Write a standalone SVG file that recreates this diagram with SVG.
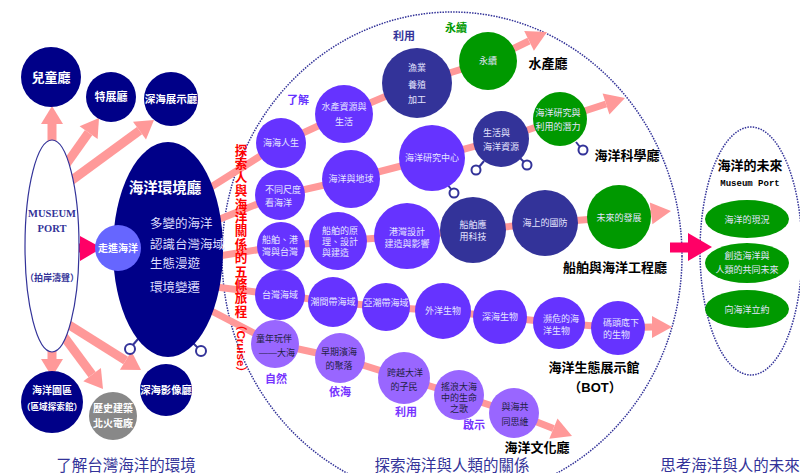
<svg xmlns="http://www.w3.org/2000/svg" width="800" height="473" viewBox="0 0 800 473">
<style>
text{font-family:"Liberation Sans","Noto Sans CJK TC",sans-serif;}
.nv{fill:#000088;}
.wt{fill:#ffffff;font-weight:bold;text-anchor:middle;}
.ct{fill:#e4e4ff;font-size:9px;text-anchor:middle;}
.cs{fill:#e4e4ff;font-size:9px;text-anchor:start;}
.dk{fill:#1e1e44;font-size:9px;text-anchor:middle;}
.c1{fill:#6633ff;}
.c2{fill:#333399;}
.c3{fill:#9966ff;}
.cg{fill:#009900;}
.pk{fill:#ff9999;}
.pl{fill:none;stroke:#ff9999;stroke-width:7;}
.ps{fill:none;stroke:#ff9999;stroke-width:9;}
.lb{fill:#000000;font-weight:bold;font-size:13px;text-anchor:middle;}
.tag{font-weight:bold;font-size:11px;text-anchor:middle;}
.dot{fill:none;stroke:#333399;stroke-width:1.5;stroke-dasharray:1.5 1.2;}
.lp{fill:#ffffff;stroke:#333399;stroke-width:2;}
.ll{stroke:#333399;stroke-width:2;}
.bt{fill:#333399;font-size:15.5px;text-anchor:middle;}
.rd{fill:#ff0000;font-weight:bold;font-size:12.6px;text-anchor:middle;}
.sf{font-family:"Liberation Serif",serif;fill:#333399;font-size:10.5px;font-weight:bold;text-anchor:middle;}
</style>

<!-- dotted regions -->
<ellipse class="dot" cx="452" cy="256" rx="230" ry="244"/>
<ellipse class="dot" cx="751" cy="251" rx="51" ry="124"/>

<g id="connectors">
  <!-- left arrows from museum port -->
  <line class="ps" x1="52" y1="150" x2="52" y2="123"/>
  <polygon class="pk" points="52,106 63,124 41,124"/>
  <line class="ps" x1="60" y1="173" x2="88.6" y2="132.7"/>
  <polygon class="pk" points="99,118 97.6,139.1 79.6,126.3"/>
  <line class="ps" x1="68" y1="183" x2="139.5" y2="130.7"/>
  <polygon class="pk" points="154,120 146,139.6 133,121.8"/>
  <line class="ps" x1="52" y1="340" x2="52" y2="360"/>
  <polygon class="pk" points="41,359 63,359 52,377"/>
  <line class="ps" x1="62" y1="334" x2="92.1" y2="374.6"/>
  <polygon class="pk" points="103,389 83.3,381.2 100.9,368"/>
  <line class="ps" x1="66" y1="323" x2="125.7" y2="360.5"/>
  <polygon class="pk" points="141,370 119.9,369.8 131.5,351.2"/>
  <!-- magenta arrows -->
  <rect x="63" y="243.5" width="19" height="9" fill="#ff0066"/>
  <polygon points="80,236 80,261 102,248" fill="#ff0066"/>
  <rect x="670" y="242.5" width="20" height="10" fill="#ff0066"/>
  <polygon points="688,233 688,261 712,247" fill="#ff0066"/>
  <!-- row lines -->
  <polyline class="pl" points="200,194 281,143 344,114 417,83 488,61 529,41"/>
  <polygon class="pk" points="547,32 533.9,50.7 524.2,30.9"/>
  <polyline class="pl" points="200,227 280,195 351,179 432,158 501,139 560,119 606,104"/>
  <polygon class="pk" points="625,98 609.4,114.6 602.6,93.6"/>
  <polyline class="pl" points="200,259 281,246 338,241 407,236 473,230 545,223 619,217 651,213.3"/>
  <polygon class="pk" points="671,211 652.4,224.2 649.8,202.4"/>
  <polyline class="pl" points="200,285 280,295 333,302 386,307 443,311 500,317 559,323 618,328 652,327"/>
  <polygon class="pk" points="672,327 652,338 652,316"/>
  <polyline class="pl" points="200,305 275,344 340,358 404,378 459,395 514,413 553.4,428.6"/>
  <polygon class="pk" points="572,436 549.3,438.8 557.5,418.4"/>
  <!-- lollipops -->
  <line class="ll" x1="138" y1="339" x2="132" y2="346"/>
  <circle class="lp" cx="130" cy="349" r="5"/>
  <line class="ll" x1="192" y1="342" x2="198" y2="348"/>
  <circle class="lp" cx="201" cy="351" r="5"/>
  <line class="ll" x1="447" y1="184" x2="451" y2="189"/>
  <circle class="lp" cx="454" cy="193" r="4.5"/>
  <line class="ll" x1="484" y1="161" x2="479" y2="167"/>
  <circle class="lp" cx="476" cy="170" r="4.5"/>
  <line class="ll" x1="519" y1="157" x2="524" y2="162"/>
  <circle class="lp" cx="527" cy="165" r="4.5"/>
  <line class="ll" x1="576" y1="142" x2="580" y2="147"/>
  <circle class="lp" cx="583" cy="150" r="4.5"/>
</g>

<!-- left section -->
<g id="museum-port">
  <ellipse cx="52" cy="246" rx="27" ry="106" fill="#ffffff" stroke="#333399" stroke-width="1.2"/>
  <text class="sf" x="52" y="217">MUSEUM</text>
  <text class="sf" x="52" y="232">PORT</text>
  <text x="52" y="281" font-size="9" font-weight="bold" fill="#333399" text-anchor="middle">（拍岸濤聲）</text>
</g>
<g id="children-hall">
  <circle class="nv" cx="51" cy="77" r="30"/>
  <text class="wt" x="51" y="82" font-size="13">兒童廳</text>
</g>
<g id="special-hall">
  <circle class="nv" cx="111" cy="97" r="25"/>
  <text class="wt" x="111" y="101" font-size="11">特展廳</text>
</g>
<g id="deepsea-hall">
  <circle class="nv" cx="171" cy="99" r="27"/>
  <text class="wt" x="171" y="103" font-size="10.5">深海展示廳</text>
</g>
<g id="ocean-env-hall">
  <ellipse class="nv" cx="168" cy="249.5" rx="55" ry="107.5"/>
  <text class="wt" x="165" y="193" font-size="14.5">海洋環境廳</text>
  <text x="150" y="228" font-size="12.5" fill="#ddddff">多變的海洋</text>
  <text x="150" y="249" font-size="12.5" fill="#ddddff">認識台灣海域</text>
  <text x="150" y="268" font-size="12.5" fill="#ddddff">生態漫遊</text>
  <text x="150" y="292" font-size="12.5" fill="#ddddff">環境變遷</text>
</g>
<g id="enter-ocean">
  <circle cx="118" cy="248" r="23" fill="#6666ff"/>
  <text class="wt" x="118" y="252" font-size="10">走進海洋</text>
</g>
<g id="ocean-park">
  <circle class="nv" cx="52" cy="402" r="31"/>
  <text class="wt" x="52" y="394" font-size="10">海洋園區</text>
  <text class="wt" x="52" y="410" font-size="8.6">（區域探索館）</text>
</g>
<g id="historic-building">
  <circle cx="113" cy="416" r="24" fill="#888888"/>
  <text class="wt" x="113" y="412" font-size="10">歷史建築</text>
  <text class="wt" x="113" y="427" font-size="10">北火電廠</text>
</g>
<g id="deepsea-image-hall">
  <circle class="nv" cx="166" cy="390" r="26"/>
  <text class="wt" x="166" y="394" font-size="10.3">深海影像廳</text>
</g>

<!-- red vertical title -->
<g id="cruise-title">
  <text class="rd">
    <tspan x="241" y="155">探</tspan><tspan x="241" y="168.4">索</tspan><tspan x="241" y="181.8">人</tspan><tspan x="241" y="195.2">與</tspan><tspan x="241" y="208.6">海</tspan><tspan x="241" y="222">洋</tspan><tspan x="241" y="235.4">關</tspan><tspan x="241" y="248.8">係</tspan><tspan x="241" y="262.2">的</tspan><tspan x="241" y="275.6">五</tspan><tspan x="241" y="289">條</tspan><tspan x="241" y="302.4">旅</tspan><tspan x="241" y="315.8">程</tspan>
  </text>
  <text transform="translate(236.5,319) rotate(90)" fill="#ff0000" font-weight="bold" font-size="11.5">（Cruise）</text>
</g>

<!-- row 1 -->
<g id="r1-n1"><circle class="c1" cx="281" cy="143" r="25"/><text class="ct" x="281" y="146">海海人生</text></g>
<g id="r1-n2"><circle class="c1" cx="344" cy="114" r="29"/><text class="ct" x="344" y="110">水產資源與</text><text class="ct" x="344" y="125">生活</text></g>
<g id="r1-n3"><circle class="c2" cx="417" cy="83" r="35"/><text class="ct" x="417" y="71">漁業</text><text class="ct" x="417" y="88">養殖</text><text class="ct" x="417" y="103">加工</text></g>
<g id="r1-n4"><circle class="cg" cx="488" cy="61" r="29"/><text class="ct" x="488" y="64">永續</text></g>
<text class="tag" x="298" y="104" fill="#6633ff">了解</text>
<text class="tag" x="404" y="40" fill="#333399">利用</text>
<text class="tag" x="456" y="32" fill="#009900">永續</text>
<text class="lb" x="548" y="68">水產廳</text>

<!-- row 2 -->
<g id="r2-n1"><circle class="c1" cx="280" cy="195" r="25"/><text class="cs" x="265" y="193">不同尺度</text><text class="cs" x="265" y="206">看海洋</text></g>
<g id="r2-n2"><circle class="c1" cx="351" cy="179" r="29"/><text class="ct" x="351" y="182">海洋與地球</text></g>
<g id="r2-n3"><circle class="c1" cx="432" cy="158" r="33"/><text class="ct" x="432" y="161">海洋研究中心</text></g>
<g id="r2-n4"><circle class="c2" cx="501" cy="139" r="28"/><text class="cs" x="483" y="136">生活與</text><text class="cs" x="483" y="150">海洋資源</text></g>
<g id="r2-n5"><circle class="cg" cx="560" cy="119" r="27"/><text class="ct" x="558" y="116">海洋研究與</text><text class="ct" x="558" y="130">利用的潛力</text></g>
<text class="lb" x="627" y="160">海洋科學廳</text>

<!-- row 3 -->
<g id="r3-n1"><circle class="c1" cx="281" cy="246" r="24"/><text class="ct" x="280" y="243">船舶、港</text><text class="ct" x="280" y="255">灣與台灣</text></g>
<g id="r3-n2"><circle class="c1" cx="338" cy="241" r="29"/><text class="cs" x="322" y="234">船舶的原</text><text class="cs" x="322" y="245">理、設計</text><text class="cs" x="322" y="256">與建造</text></g>
<g id="r3-n3"><circle class="c1" cx="407" cy="236" r="33"/><text class="ct" x="407" y="235">港灣設計</text><text class="ct" x="407" y="247">建造與影響</text></g>
<g id="r3-n4"><circle class="c2" cx="473" cy="230" r="33"/><text class="ct" x="473" y="228">船舶應</text><text class="ct" x="473" y="240">用科技</text></g>
<g id="r3-n5"><circle class="c2" cx="545" cy="223" r="33"/><text class="ct" x="545" y="226">海上的國防</text></g>
<g id="r3-n6"><circle class="cg" cx="619" cy="217" r="32"/><text class="ct" x="619" y="221">未來的發展</text></g>
<text class="lb" x="615" y="272">船舶與海洋工程廳</text>

<!-- row 4 -->
<g id="r4-n1"><circle class="c1" cx="280" cy="295" r="25"/><text class="ct" x="280" y="298">台灣海域</text></g>
<g id="r4-n2"><circle class="c1" cx="333" cy="302" r="25"/><text class="ct" x="333" y="305">潮間帶海域</text></g>
<g id="r4-n3"><circle class="c1" cx="386" cy="307" r="24"/><text class="ct" x="386" y="306">亞潮帶海域</text></g>
<g id="r4-n4"><circle class="c1" cx="443" cy="311" r="28"/><text class="ct" x="443" y="314">外洋生物</text></g>
<g id="r4-n5"><circle class="c1" cx="500" cy="317" r="27"/><text class="ct" x="500" y="320">深海生物</text></g>
<g id="r4-n6"><circle class="c1" cx="559" cy="323" r="26"/><text class="cs" x="543" y="322">瀕危的海</text><text class="cs" x="543" y="334">洋生物</text></g>
<g id="r4-n7"><circle class="c1" cx="618" cy="328" r="27"/><text class="cs" x="603" y="326" font-size="8.5">碼頭底下</text><text class="cs" x="603" y="338" font-size="8.5">的生物</text></g>
<text class="lb" x="594" y="372">海洋生態展示館</text>
<text class="lb" x="595" y="392">（BOT）</text>

<!-- row 5 -->
<g id="r5-n1"><circle class="c3" cx="275" cy="344" r="24"/><text class="dk" x="274" y="342">童年玩伴</text><text class="dk" x="277" y="356">——大海</text></g>
<g id="r5-n2"><circle class="c3" cx="340" cy="358" r="25"/><text class="dk" x="339" y="355">早期濱海</text><text class="dk" x="339" y="369">的聚落</text></g>
<g id="r5-n3"><circle class="c3" cx="404" cy="378" r="26"/><text class="dk" x="405" y="376">跨越大洋</text><text class="dk" x="404" y="390">的子民</text></g>
<g id="r5-n4"><circle class="c3" cx="459" cy="395" r="25"/><text class="dk" x="459" y="390">搖浪大海</text><text class="dk" x="459" y="401">中的生命</text><text class="dk" x="459" y="412">之歌</text></g>
<g id="r5-n5"><circle class="c3" cx="514" cy="413" r="25"/><text class="dk" x="515" y="410">與海共</text><text class="dk" x="515" y="425">同思維</text></g>
<text class="tag" x="276" y="383" fill="#7733ff">自然</text>
<text class="tag" x="340" y="396" fill="#7733ff">依海</text>
<text class="tag" x="406" y="416" fill="#7733ff">利用</text>
<text class="tag" x="474" y="429" fill="#7733ff">啟示</text>
<text class="lb" x="537" y="452">海洋文化廳</text>

<!-- right future section -->
<g id="future">
  <text class="lb" x="750" y="170" font-size="13.5">海洋的未來</text>
  <text x="750" y="186" style="font-family:'Liberation Mono',monospace" font-size="9" font-weight="bold" text-anchor="middle" fill="#000000">Museum Port</text>
</g>
<g id="f1"><ellipse class="cg" cx="747" cy="219" rx="42" ry="19"/><text class="ct" x="747" y="223" font-size="10">海洋的現況</text></g>
<g id="f2"><ellipse class="cg" cx="747" cy="263" rx="42" ry="20"/><text class="ct" x="747" y="259" font-size="10">創造海洋與</text><text class="ct" x="747" y="273" font-size="10">人類的共同未來</text></g>
<g id="f3"><ellipse class="cg" cx="747" cy="309" rx="42" ry="19"/><text class="ct" x="747" y="313" font-size="10">向海洋立約</text></g>

<!-- bottom titles -->
<text class="bt" x="126" y="471">了解台灣海洋的環境</text>
<text class="bt" x="452" y="471">探索海洋與人類的關係</text>
<text class="bt" x="730" y="471">思考海洋與人的未來</text>
</svg>
